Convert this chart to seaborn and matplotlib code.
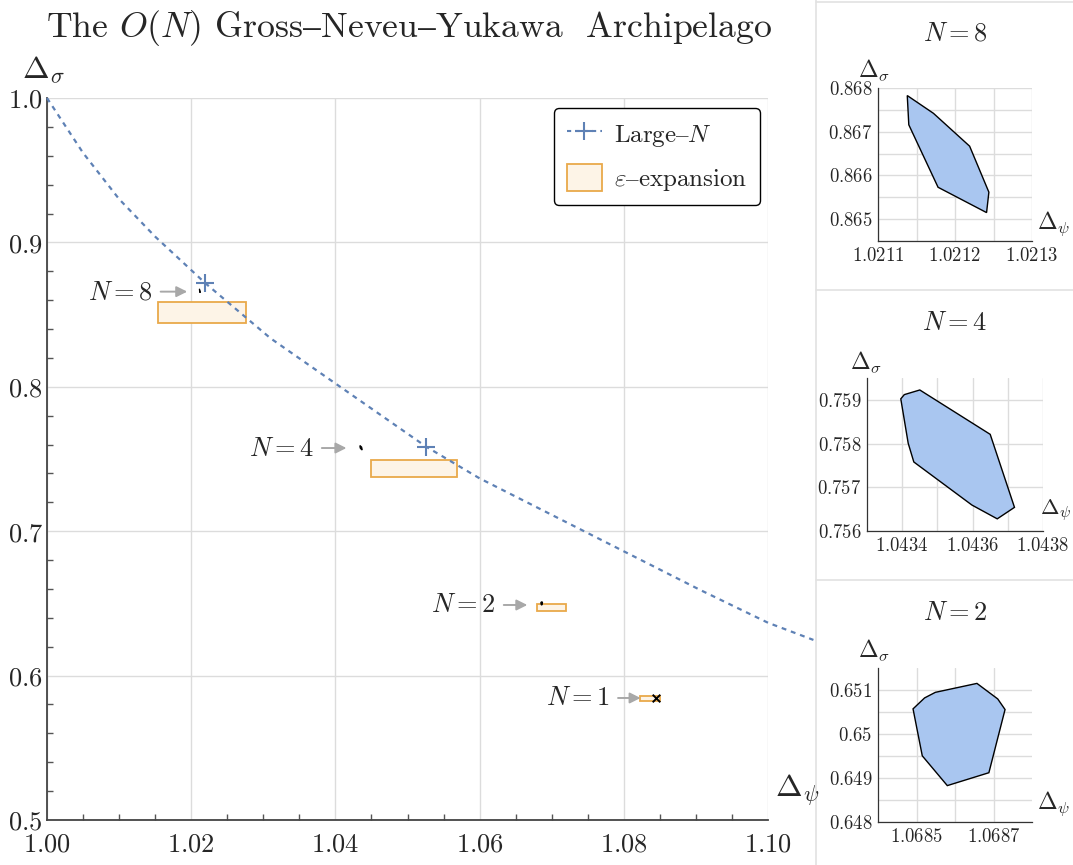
import numpy as np
import pandas as pd
import matplotlib
matplotlib.use("Agg")
import matplotlib.pyplot as plt
import seaborn as sns
from matplotlib.ticker import FuncFormatter, MultipleLocator, FixedLocator
from matplotlib.lines import Line2D
from matplotlib.patches import Patch, Rectangle, Polygon

# ---------------- data ----------------
# Large-N curve
largeN_dpsi = [1.0000, 1.0050, 1.0100, 1.0150, 1.0185, 1.0219, 1.0310, 1.0526, 1.0600, 1.0906, 1.1000, 1.1063]
largeN_dsig = [1.0000, 0.9620, 0.9300, 0.9040, 0.8878, 0.8720, 0.8336, 0.7585, 0.7366, 0.6593, 0.6366, 0.6247]
# Large-N points for N = 8, 4
cross_N = [8, 4]
cross_dpsi = [1.0219, 1.0526]
cross_dsig = [0.8719, 0.7585]

# epsilon-expansion boxes
eps_N = [8, 4, 2, 1]
eps_dpsi_lo = [1.0154, 1.0449, 1.0680, 1.0822]
eps_dpsi_hi = [1.0276, 1.0569, 1.0720, 1.0850]
eps_dsig_lo = [0.8444, 0.7375, 0.6447, 0.5826]
eps_dsig_hi = [0.8589, 0.7493, 0.6496, 0.5859]

# bootstrap islands
island8_dpsi = [1.021138, 1.021140, 1.021178, 1.021241, 1.021244, 1.021219, 1.021172]
island8_dsig = [0.867827, 0.867158, 0.865729, 0.865150, 0.865617, 0.866669, 0.867421]
island4_dpsi = [1.043396, 1.043406, 1.043450, 1.043650, 1.043719, 1.043670, 1.043598, 1.043433, 1.043417]
island4_dsig = [0.759023, 0.759120, 0.759226, 0.758211, 0.756541, 0.756278, 0.756594, 0.757579, 0.758008]
island2_dpsi = [1.068491, 1.068521, 1.068549, 1.068657, 1.068711, 1.068730, 1.068688, 1.068580, 1.068515]
island2_dsig = [0.650571, 0.650820, 0.650947, 0.651150, 0.650797, 0.650556, 0.649120, 0.648827, 0.649504]
# N = 1 point
n1_dpsi = [1.0844]
n1_dsig = [0.5843]

# labels
main_xticks = [1.00, 1.02, 1.04, 1.06, 1.08, 1.10]
main_yticks = [0.5, 0.6, 0.7, 0.8, 0.9, 1.0]
label_N = [8, 4, 2, 1]

# ---------------- style ----------------
BLUE = "#5e81b5"
BOX_FC = "#fdf4e7"
BOX_EC = "#e9a94a"
ISLAND = "#a9c6f0"
GRID = "#dcdcdc"
ARROW = "#a8a8a8"

sns.set_theme(style="white")
plt.rcParams.update({
    "mathtext.fontset": "cm",
    "font.family": ["DejaVu Serif"],
    "axes.unicode_minus": True,
})

W, H = 1073, 865
fig = plt.figure(figsize=(W / 100, H / 100), dpi=100)


def px_rect(left, top, right, bottom):
    return [left / W, 1 - bottom / H, (right - left) / W, (bottom - top) / H]


# ---------------- main axes ----------------
ax = fig.add_axes(px_rect(47, 98, 768, 820))
ax.set_xlim(1.0, 1.1)
ax.set_ylim(0.5, 1.0)
ax.xaxis.set_major_locator(FixedLocator(main_xticks))
ax.yaxis.set_major_locator(FixedLocator(main_yticks))
ax.xaxis.set_minor_locator(MultipleLocator(0.005))
ax.yaxis.set_minor_locator(MultipleLocator(0.02))
ax.xaxis.set_major_formatter(FuncFormatter(lambda v, p: f"${v:.2f}$"))
ax.yaxis.set_major_formatter(FuncFormatter(lambda v, p: f"${v:.1f}$"))
ax.grid(True, which="major", color=GRID, lw=1)
for s in ["top", "right"]:
    ax.spines[s].set_visible(False)
for s in ["left", "bottom"]:
    ax.spines[s].set_color("#444444")
    ax.spines[s].set_linewidth(1.3)
ax.tick_params(which="both", direction="in", color="#555555", labelsize=19,
               left=True, bottom=True)
ax.tick_params(axis="x", pad=8)
ax.tick_params(axis="y", pad=3)
ax.tick_params(which="major", length=0)
ax.tick_params(which="minor", length=4, width=1)

# Large-N curve
sns.lineplot(x=largeN_dpsi, y=largeN_dsig, sort=False, estimator=None, ax=ax,
             color=BLUE, lw=1.6, linestyle=(0, (2.2, 2.2)), clip_on=False, zorder=3)
sns.scatterplot(x=cross_dpsi, y=cross_dsig, marker="+", s=160, color=BLUE,
                linewidth=1.5, ax=ax, zorder=4)

# epsilon boxes
for x0, x1, y0, y1 in zip(eps_dpsi_lo, eps_dpsi_hi, eps_dsig_lo, eps_dsig_hi):
    ax.add_patch(Rectangle((x0, y0), x1 - x0, y1 - y0, fc=BOX_FC, ec=BOX_EC, lw=1.3, zorder=2))

# islands in main plot
for px_, py_ in [(island8_dpsi, island8_dsig), (island4_dpsi, island4_dsig), (island2_dpsi, island2_dsig)]:
    ax.add_patch(Polygon(np.column_stack([px_, py_]), closed=True, fc="black", ec="black", lw=0.8, zorder=5))
sns.scatterplot(x=n1_dpsi, y=n1_dsig, marker="x", s=30, color="black", linewidth=1.4, ax=ax, zorder=5)

# N labels with arrows
arrow_tips = [(1.01945, 0.8659), (1.04153, 0.7576), (1.06662, 0.6489), (1.08233, 0.5845)]
text_pos = [(1.01473, 0.8659), (1.03709, 0.7576), (1.06232, 0.6489), (1.07817, 0.5845)]
for n, tip, tp in zip(label_N, arrow_tips, text_pos):
    ax.annotate(r"$N=" + str(n) + "$", xy=tip, xytext=tp, ha="right", va="center", fontsize=19,
                arrowprops=dict(arrowstyle="-|>", color=ARROW, lw=1.4, mutation_scale=16,
                                shrinkA=3, shrinkB=0), zorder=6)

# legend
handles = [Line2D([], [], color=BLUE, ls=(0, (2, 2)), lw=1.5, marker="+", ms=13, mew=1.5),
           Patch(fc=BOX_FC, ec=BOX_EC, lw=1.3)]
labels = [r"$\mathrm{Large}\text{–}N$", r"$\varepsilon\text{–expansion}$"]
leg = ax.legend(handles, labels, loc="upper right", bbox_to_anchor=(0.989, 0.986),
                borderaxespad=0, fontsize=18, frameon=True, fancybox=True,
                edgecolor="black", framealpha=1, handlelength=1.4, handleheight=1.25,
                handletextpad=0.5, labelspacing=0.6, borderpad=0.5)
leg.get_frame().set_linewidth(1.0)

# axis labels + title
fig.text(43 / W, 1 - 70 / H, r"$\Delta_\sigma$", fontsize=23, ha="center", va="center")
fig.text(797 / W, 1 - 790 / H, r"$\Delta_\psi$", fontsize=23, ha="center", va="center")
fig.text(409 / W, 1 - 28 / H, r"$\text{The }O(N)\text{ Gross–Neveu–Yukawa  Archipelago}$",
         fontsize=25.7, ha="center", va="center")

# ---------------- insets ----------------
def inset(rect, xs, ys, xlim, ylim, xmaj, xmin, ymaj, ymin, title, title_y,
          sig_pos, psi_pos, psi_size=17):
    iax = fig.add_axes(px_rect(*rect))
    iax.set_xlim(*xlim)
    iax.set_ylim(*ylim)
    iax.xaxis.set_major_locator(FixedLocator(xmaj))
    iax.yaxis.set_major_locator(FixedLocator(ymaj))
    iax.xaxis.set_minor_locator(FixedLocator(xmin))
    iax.yaxis.set_minor_locator(FixedLocator(ymin))
    fmt = FuncFormatter(lambda v, p: f"${v:g}$")
    iax.xaxis.set_major_formatter(fmt)
    iax.yaxis.set_major_formatter(fmt)
    iax.grid(True, which="both", color=GRID, lw=1)
    for s in ["top", "right"]:
        iax.spines[s].set_visible(False)
    for s in ["left", "bottom"]:
        iax.spines[s].set_color("#333333")
        iax.spines[s].set_linewidth(0.9)
    iax.tick_params(which="both", length=0, labelsize=13.5, pad=4, left=True, bottom=True)
    iax.add_patch(Polygon(np.column_stack([xs, ys]), closed=True, fc=ISLAND, ec="black", lw=1.0, zorder=3))
    cx = (rect[0] + rect[2]) / 2
    fig.text(cx / W, 1 - title_y / H, title, fontsize=19, ha="center", va="center")
    fig.text(sig_pos[0] / W, 1 - sig_pos[1] / H, r"$\Delta_\sigma$", fontsize=17, ha="center", va="center")
    fig.text(psi_pos[0] / W, 1 - psi_pos[1] / H, r"$\Delta_\psi$", fontsize=psi_size, ha="left", va="center")
    return iax


inset((878, 88, 1032, 241), island8_dpsi, island8_dsig, (1.0211, 1.0213), (0.8645, 0.868),
      [1.0211, 1.0212, 1.0213], [1.02115, 1.02125], [0.865, 0.866, 0.867, 0.868],
      [0.8645, 0.8655, 0.8665, 0.8675], r"$N=8$", 33, (874, 70), (1037, 224))
inset((867, 378, 1043, 531), island4_dpsi, island4_dsig, (1.0433, 1.0438), (0.756, 0.7595),
      [1.0434, 1.0436, 1.0438], [1.0435, 1.0437], [0.756, 0.757, 0.758, 0.759],
      [], r"$N=4$", 323, (866, 362), (1040, 510), psi_size=16)
inset((878, 668, 1032, 822), island2_dpsi, island2_dsig, (1.0684, 1.0688), (0.648, 0.6515),
      [1.0685, 1.0687], [1.0686], [0.648, 0.649, 0.650, 0.651],
      [0.6485, 0.6495, 0.6505], r"$N=2$", 613, (874, 650), (1037, 804))

# panel separators
sep = "#e2e2e2"
fig.add_artist(Line2D([816 / W, 816 / W], [0, 1], transform=fig.transFigure, color=sep, lw=1.2))
for yy in [1.5, 290, 580]:
    fig.add_artist(Line2D([816 / W, 1], [1 - yy / H, 1 - yy / H], transform=fig.transFigure, color=sep, lw=1.2))

fig.savefig("out.png", dpi=100)
